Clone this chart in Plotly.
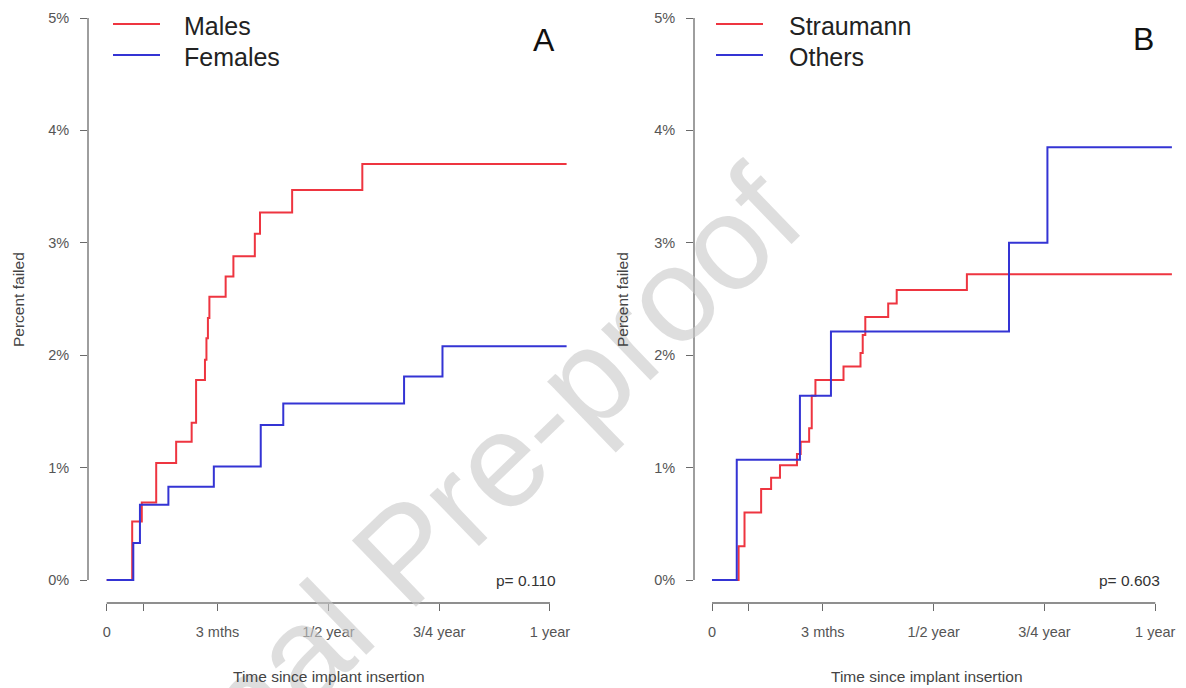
import plotly.graph_objects as go

# The page body has an 8px margin, so the figure is offset by it
OFF = 8
W, H = 1186 - OFF, 688 - OFF

# ---------------- data (time in months, percent failed) ----------------
male_t = [0, 0.69, 0.95, 1.34, 1.88, 2.30, 2.42, 2.66, 2.70, 2.74, 2.78, 3.22, 3.43, 4.01, 4.15, 5.02, 6.92, 12.45]
male_p = [0, 0.52, 0.69, 1.04, 1.23, 1.40, 1.78, 1.96, 2.15, 2.33, 2.52, 2.70, 2.88, 3.08, 3.27, 3.47, 3.70, 3.70]

female_t = [0, 0.72, 0.90, 1.67, 2.90, 4.17, 4.78, 8.05, 9.09, 12.45]
female_p = [0, 0.33, 0.67, 0.83, 1.01, 1.38, 1.57, 1.81, 2.08, 2.08]

straumann_t = [0, 0.72, 0.88, 1.33, 1.60, 1.84, 2.30, 2.40, 2.63, 2.70, 2.80, 3.56, 4.02, 4.08, 4.15, 4.77, 5.00, 6.90, 12.45]
straumann_p = [0, 0.30, 0.60, 0.81, 0.91, 1.02, 1.12, 1.23, 1.35, 1.64, 1.78, 1.90, 2.02, 2.18, 2.34, 2.46, 2.58, 2.72, 2.72]

others_t = [0, 0.67, 2.38, 3.22, 8.04, 9.08, 12.45]
others_p = [0, 1.07, 1.64, 2.21, 3.00, 3.85, 3.85]

x_tickvals = [0, 1, 3, 6, 9, 12]
x_ticktext = ["0", "", "3 mths", "1/2 year", "3/4 year", "1 year"]
y_tickvals = [0, 1, 2, 3, 4, 5]
y_ticktext = ["0%", "1%", "2%", "3%", "4%", "5%"]

panel_labels = ["A", "B"]
p_values = ["p= 0.110", "p= 0.603"]
legend_names = [["Males", "Females"], ["Straumann", "Others"]]

RED = "#ee3540"
BLUE = "#3434d4"
AXC = "#6a6a6a"
FONT = "Liberation Sans, Arial, sans-serif"


def fx(px):
    """page pixel x -> paper fraction"""
    return (px - OFF) / W


def fy(py):
    """page pixel y -> paper fraction"""
    return 1 - (py - OFF) / H


fig = go.Figure()

series = [
    (male_t, male_p, legend_names[0][0], RED, "x", "y"),
    (female_t, female_p, legend_names[0][1], BLUE, "x", "y"),
    (straumann_t, straumann_p, legend_names[1][0], RED, "x2", "y2"),
    (others_t, others_p, legend_names[1][1], BLUE, "x2", "y2"),
]
for t, p, name, col, xa, ya in series:
    fig.add_trace(go.Scatter(
        x=t, y=p, name=name, mode="lines", line=dict(color=col, width=2, shape="hv"),
        xaxis=xa, yaxis=ya, showlegend=False,
    ))

# pixel geometry (page coordinates)
pxmonth = 36.94
pypct = 112.4
y0px = 580
plot_bottom = 603
plot_top = OFF
yr = [-(plot_bottom - y0px) / pypct, (y0px - plot_top) / pypct]

panels = [
    dict(axis_x=88, zero_x=106.7, right=587),
    dict(axis_x=694, zero_x=712, right=1186),
]

TICKFONT = dict(family=FONT, size=14.5, color="#555555")
common_x = dict(
    tickmode="array", tickvals=x_tickvals, ticktext=x_ticktext,
    showgrid=False, zeroline=False, showline=False,
    ticks="outside", ticklen=7, tickwidth=1.3, tickcolor=AXC,
    tickfont=TICKFONT, ticklabelstandoff=9,
)
common_y = dict(
    tickmode="array", tickvals=y_tickvals, ticktext=y_ticktext,
    showgrid=False, zeroline=False, showline=False,
    ticks="outside", ticklen=7, tickwidth=1.3, tickcolor=AXC,
    tickfont=TICKFONT, ticklabelstandoff=8, range=yr, domain=[fy(plot_bottom), 1],
)

for i, pn in enumerate(panels):
    lo = -(pn["zero_x"] - pn["axis_x"]) / pxmonth
    hi = (pn["right"] - pn["zero_x"]) / pxmonth
    xs = "" if i == 0 else "2"
    fig.update_layout(**{
        f"xaxis{xs}": dict(common_x, range=[lo, hi],
                           domain=[fx(pn["axis_x"]), min(1, fx(pn["right"]))],
                           anchor=f"y{xs}"),
        f"yaxis{xs}": dict(common_y, anchor=f"x{xs}"),
    })
    # axis lines spanning first to last tick (R style)
    fig.add_shape(type="line", xref=f"x{xs}", yref=f"y{xs} domain",
                  x0=x_tickvals[0], x1=x_tickvals[-1], y0=0, y1=0,
                  line=dict(color=AXC, width=1.3))
    fig.add_shape(type="line", xref=f"x{xs} domain", yref=f"y{xs}",
                  x0=0, x1=0, y0=y_tickvals[0], y1=y_tickvals[-1],
                  line=dict(color=AXC, width=1.3))

annotations = []
# watermark (drawn first so other text sits above it)
annotations.append(dict(x=fx(405), y=fy(552), xref="paper", yref="paper",
                        text="Journal Pre-proof", showarrow=False, textangle=-44,
                        font=dict(family=FONT, size=134, color="rgba(200,200,200,0.6)"),
                        xanchor="center", yanchor="middle"))
# axis titles
for cx_title, cx_ylab in [(329, 18), (927, 622)]:
    annotations.append(dict(x=fx(cx_title), y=fy(676), xref="paper", yref="paper",
                            text="Time since implant insertion", showarrow=False,
                            font=dict(family=FONT, size=15.5, color="#444444"),
                            xanchor="center", yanchor="middle"))
    annotations.append(dict(x=fx(cx_ylab), y=fy(300), xref="paper", yref="paper",
                            text="Percent failed", showarrow=False, textangle=-90,
                            font=dict(family=FONT, size=15.5, color="#444444"),
                            xanchor="center", yanchor="middle"))
# panel letters
for lab, (cx, cy) in zip(panel_labels, [(544, 40), (1143, 39)]):
    annotations.append(dict(x=fx(cx), y=fy(cy), xref="paper", yref="paper", text=lab,
                            showarrow=False, font=dict(family=FONT, size=32, color="#111111"),
                            xanchor="center", yanchor="middle"))
# p-values
for pv, rx in zip(p_values, [558, 1162]):
    annotations.append(dict(x=fx(rx), y=fy(580), xref="paper", yref="paper", text=pv,
                            showarrow=False, font=dict(family=FONT, size=15.5, color="#333333"),
                            xanchor="right", yanchor="middle"))

# legends (R-style: line sample + label), one per panel
shapes_leg = []
for names, (lx0, lx1, tx) in zip(legend_names, [(113, 160, 182), (716, 763, 787)]):
    for name, col, ly in zip(names, [RED, BLUE], [24, 55]):
        shapes_leg.append(dict(type="line", xref="paper", yref="paper",
                               x0=fx(lx0), x1=fx(lx1), y0=fy(ly), y1=fy(ly),
                               line=dict(color=col, width=2)))
        annotations.append(dict(x=fx(tx), y=fy(ly + 2), xref="paper", yref="paper",
                                text=name, showarrow=False,
                                font=dict(family=FONT, size=25, color="#222222"),
                                xanchor="left", yanchor="middle"))
for s in shapes_leg:
    fig.add_shape(**s)

fig.update_layout(
    width=W, height=H,
    margin=dict(l=0, r=0, t=0, b=0),
    paper_bgcolor="white", plot_bgcolor="white",
    annotations=annotations,
    showlegend=False,
)

fig.write_html("out.html")
